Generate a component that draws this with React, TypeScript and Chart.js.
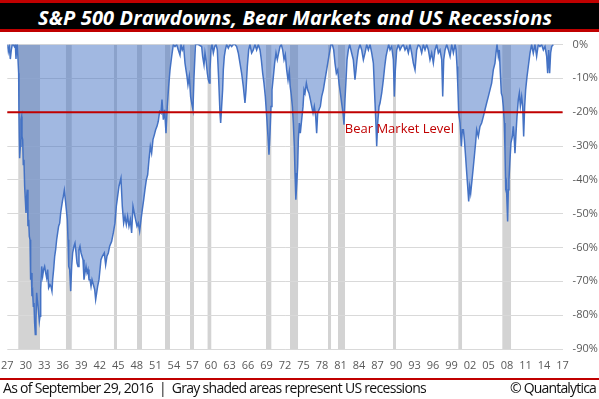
import React, { useEffect, useLayoutEffect, useRef } from "react";
import { Chart, registerables } from "chart.js";

Chart.register(...registerables);

const FONT = "'Open Sans', 'Noto Sans', 'DejaVu Sans', sans-serif";

// ---- DATA ----
const TITLE = "S&P 500 Drawdowns, Bear Markets and US Recessions";
const FOOTNOTE = "As of September 29, 2016\u00a0\u00a0|\u00a0\u00a0Gray shaded areas represent US recessions";
const CREDIT = "\u00a9 Quantalytica";
const BEAR_LABEL = "Bear Market Level";
const BEAR_LEVEL = -20;
const BEAR_LABEL_YEAR = 1981.7;

const xTickYears = [1927, 1930, 1933, 1936, 1939, 1942, 1945, 1948, 1951, 1954, 1957, 1960, 1963, 1966, 1969, 1972, 1975, 1978, 1981, 1984, 1987, 1990, 1993, 1996, 1999, 2002, 2005, 2008, 2011, 2014, 2017];
const yTickValues = [0, -10, -20, -30, -40, -50, -60, -70, -80, -90];

const recessionStart = [1928.78, 1936.51, 1944.29, 1948.02, 1952.56, 1956.61, 1959.46, 1968.93, 1972.82, 1978.98, 1980.6, 1989.51, 2000.1, 2007.23];
const recessionEnd = [1932.3, 1937.44, 1944.78, 1948.83, 1953.37, 1957.26, 1960.06, 1969.79, 1974.12, 1979.47, 1981.73, 1990.0, 2000.7, 2008.64];

const dateYears = [
  1927.0, 1927.16, 1927.32, 1927.49, 1927.65, 1927.81, 1927.97, 1928.14, 1928.3, 1928.41, 1928.51, 1928.62,
  1928.73, 1928.84, 1928.89, 1928.95, 1929.0, 1929.11, 1929.22, 1929.32, 1929.38, 1929.49, 1929.59, 1929.7,
  1929.81, 1929.92, 1930.03, 1930.14, 1930.24, 1930.35, 1930.46, 1930.57, 1930.68, 1930.78, 1930.89, 1931.0,
  1931.11, 1931.22, 1931.32, 1931.43, 1931.54, 1931.65, 1931.76, 1931.86, 1932.03, 1932.19, 1932.3, 1932.41,
  1932.57, 1932.73, 1932.89, 1933.05, 1933.22, 1933.38, 1933.54, 1933.7, 1933.92, 1934.08, 1934.24, 1934.35,
  1934.51, 1934.68, 1934.84, 1935.0, 1935.16, 1935.32, 1935.49, 1935.65, 1935.81, 1935.97, 1936.08, 1936.24,
  1936.41, 1936.57, 1936.73, 1936.84, 1936.95, 1937.11, 1937.27, 1937.43, 1937.59, 1937.81, 1937.97, 1938.14,
  1938.3, 1938.46, 1938.62, 1938.78, 1938.95, 1939.11, 1939.27, 1939.43, 1939.59, 1939.76, 1939.92, 1940.08,
  1940.24, 1940.41, 1940.57, 1940.73, 1940.95, 1941.16, 1941.32, 1941.64, 1941.86, 1942.18, 1942.4, 1942.72,
  1942.94, 1943.15, 1943.37, 1943.59, 1943.91, 1944.18, 1944.45, 1944.67, 1944.88, 1945.1, 1945.42, 1945.64,
  1945.86, 1946.07, 1946.29, 1946.5, 1946.72, 1946.94, 1947.15, 1947.37, 1947.58, 1947.8, 1948.02, 1948.23,
  1948.45, 1948.67, 1948.88, 1949.1, 1949.31, 1949.53, 1949.75, 1949.96, 1950.18, 1950.39, 1950.61, 1950.83,
  1951.04, 1951.26, 1951.47, 1951.69, 1951.91, 1952.07, 1952.29, 1952.5, 1952.72, 1952.93, 1953.15, 1953.37,
  1953.64, 1953.91, 1954.18, 1954.45, 1954.72, 1954.99, 1955.15, 1955.36, 1955.58, 1955.8, 1955.96, 1956.12,
  1956.28, 1956.5, 1956.71, 1956.93, 1957.09, 1957.25, 1957.42, 1957.5, 1957.96, 1958.5, 1958.66, 1958.88,
  1959.04, 1959.2, 1959.42, 1959.58, 1959.74, 1959.85, 1960.01, 1960.18, 1960.39, 1960.61, 1960.82, 1961.04,
  1961.26, 1961.47, 1961.58, 1961.74, 1961.9, 1962.01, 1962.17, 1962.34, 1962.55, 1962.82, 1963.09, 1963.36,
  1963.63, 1963.9, 1964.17, 1964.44, 1964.71, 1964.98, 1965.25, 1965.52, 1965.69, 1965.9, 1966.12, 1966.33,
  1966.6, 1966.87, 1967.14, 1967.41, 1967.68, 1967.96, 1968.17, 1968.39, 1968.6, 1968.82, 1969.04, 1969.25,
  1969.41, 1969.58, 1969.74, 1969.9, 1970.12, 1970.33, 1970.55, 1970.76, 1970.98, 1971.2, 1971.41, 1971.63,
  1971.85, 1972.06, 1972.28, 1972.5, 1972.7, 1972.85, 1973.0, 1973.2, 1973.36, 1973.52, 1973.63, 1973.74,
  1973.79, 1973.95, 1974.06, 1974.17, 1974.33, 1974.49, 1974.71, 1974.93, 1975.09, 1975.25, 1975.47, 1975.68,
  1975.9, 1976.12, 1976.33, 1976.55, 1976.76, 1976.98, 1977.14, 1977.3, 1977.52, 1977.74, 1977.95, 1978.22,
  1978.49, 1978.76, 1979.03, 1979.3, 1979.47, 1979.68, 1979.9, 1980.11, 1980.33, 1980.55, 1980.76, 1980.98,
  1981.19, 1981.41, 1981.57, 1981.73, 1981.9, 1982.06, 1982.27, 1982.49, 1982.81, 1983.08, 1983.35, 1983.52,
  1983.68, 1983.9, 1984.17, 1984.44, 1984.71, 1984.98, 1985.25, 1985.52, 1985.79, 1986.06, 1986.33, 1986.6,
  1986.76, 1986.87, 1987.03, 1987.25, 1987.41, 1987.68, 1987.95, 1988.17, 1988.38, 1988.6, 1988.81, 1989.03,
  1989.3, 1989.57, 1989.73, 1989.89, 1990.11, 1990.38, 1990.65, 1990.92, 1991.19, 1991.46, 1991.73, 1992.0,
  1992.27, 1992.54, 1992.81, 1993.08, 1993.35, 1993.62, 1993.89, 1994.16, 1994.43, 1994.7, 1994.97, 1995.24,
  1995.51, 1995.78, 1996.05, 1996.32, 1996.59, 1996.86, 1997.13, 1997.41, 1997.57, 1997.73, 1997.95, 1998.22,
  1998.49, 1998.76, 1999.03, 1999.3, 1999.57, 1999.73, 1999.89, 2000.0, 2000.16, 2000.38, 2000.59, 2000.75,
  2000.92, 2001.08, 2001.24, 2001.46, 2001.62, 2001.78, 2001.94, 2002.1, 2002.32, 2002.54, 2002.75, 2002.9,
  2003.07, 2003.34, 2003.61, 2003.88, 2004.15, 2004.42, 2004.69, 2004.96, 2005.23, 2005.5, 2005.77, 2006.04,
  2006.2, 2006.37, 2006.58, 2006.74, 2006.91, 2007.07, 2007.23, 2007.39, 2007.55, 2007.66, 2007.77, 2007.88,
  2007.99, 2008.09, 2008.2, 2008.31, 2008.47, 2008.63, 2008.85, 2009.01, 2009.17, 2009.28, 2009.45, 2009.61,
  2009.82, 2009.99, 2010.15, 2010.36, 2010.53, 2010.69, 2010.85, 2011.01, 2011.23, 2011.44, 2011.71, 2011.98,
  2012.25, 2012.52, 2012.79, 2013.06, 2013.33, 2013.6, 2013.88, 2014.15, 2014.42, 2014.58, 2014.74, 2014.9,
  2015.06, 2015.23, 2015.5
];

const drawdownPct = [
  0, -2.1, -0.6, -4.3, -1.6, 0, 0, -0.6, 0, -4.3, -0.6, 0,
  0, -8.5, -20.1, -28.1, -33.6, -30.1, -22.2, -21.3, -27.2, -28.1, -35.5, -34.1,
  -41.9, -45.9, -49.8, -44.9, -42.9, -53.7, -51.8, -56.7, -57.7, -69.5, -67.5, -74.4,
  -73.4, -77.4, -76.4, -82.3, -85.7, -81.3, -73.4, -75.4, -78.3, -81.8, -80.3, -72.4,
  -65.6, -68.5, -66.5, -65.6, -67.5, -69.0, -66.5, -71.9, -71.0, -71.5, -72.9, -69.5,
  -66.5, -62.6, -60.6, -57.7, -55.7, -53.7, -52.8, -49.8, -47.8, -45.9, -44.9, -43.1,
  -45.9, -48.8, -51.8, -57.7, -65.6, -66.5, -72.9, -65.6, -61.6, -59.6, -58.7, -61.6,
  -64.6, -65.6, -60.6, -59.6, -61.6, -62.6, -63.6, -69.5, -67.5, -65.6, -67.5, -66.5,
  -69.5, -69.5, -71.5, -69.5, -71.0, -72.4, -75.4, -71.5, -69.5, -63.6, -62.6, -61.6,
  -65.1, -62.6, -61.6, -59.6, -58.2, -55.7, -52.8, -47.8, -44.9, -41.9, -39.5, -47.8,
  -52.8, -50.8, -53.2, -50.8, -53.7, -51.8, -55.7, -47.8, -49.8, -51.8, -53.7, -52.8,
  -55.2, -51.8, -48.8, -45.9, -42.9, -40.0, -38.5, -34.1, -30.1, -32.1, -28.1, -26.7,
  -25.2, -24.2, -22.7, -19.8, -20.3, -16.3, -22.2, -19.3, -26.2, -18.3, -12.4, -7.5,
  -3.5, 0, -0.6, 0, -1.6, -3.1, 0, -1.6, -0.6, -5.5, -7.5, -9.4,
  -11.9, -9.4, -15.4, -17.8, -19.3, -10.0, -3.0, 0, 0, -0.6, -3.5, -6.0,
  -2.5, -4.5, -8.5, -10.4, -11.4, -7.5, -1.6, 0, -2.5, -0.6, 0, -1.6,
  -10.4, -20.3, -23.2, -18.3, -13.4, -7.5, -3.5, -1.6, 0, -1.1, 0, -0.6,
  0, 0, -0.6, -2.5, -5.5, -8.5, -12.4, -17.3, -13.4, -6.5, -1.6, 0,
  -2.5, -1.6, 0, -1.6, 0, -1.6, -4.5, -8.5, -11.4, -15.4, -21.3, -27.2,
  -32.6, -26.2, -18.3, -13.4, -9.5, -5.5, -2.5, -4.5, -2.5, -0.6, 0, -1.6,
  -4.5, -3.0, -7.5, -10.5, -8.0, -12.4, -14.5, -18.3, -23.2, -30.1, -38.0, -42.0,
  -45.9, -40.0, -36.0, -28.1, -23.2, -26.2, -22.2, -18.3, -13.4, -14.4, -11.4, -13.4,
  -14.4, -16.3, -18.3, -20.3, -18.3, -21.3, -26.2, -20.3, -19.3, -18.3, -15.4, -13.4,
  -10.4, -7.5, -4.5, -1.6, 0, 0, -1.6, -5.5, -8.5, -7.5, -11.4, -14.4,
  -17.3, -20.3, -23.7, -16.3, -10.4, -4.5, -1.6, 0, -2.5, -4.5, -10.4, -7.5,
  -4.5, -1.6, 0, -1.6, -4.5, -2.5, 0, -1.6, 0, -2.5, -5.5, -17.3,
  -24.2, -30.1, -23.2, -18.3, -17.3, -14.4, -10.4, -6.5, -3.5, -1.6, 0, -1.6,
  -0.6, -4.5, -15.4, -7.5, -1.6, 0, -1.6, -0.6, 0, -1.6, -0.6, -2.5,
  0, -2.5, -5.5, -7.5, -1.6, 0, -0.6, -2.5, 0, -1.6, 0, -1.6,
  -4.5, -2.5, -5.5, -1.6, 0, -2.5, -1.6, -4.5, -15.4, -4.5, -1.6, 0,
  -1.6, -3.5, 0, -2.5, 0, -1.6, -6.5, -11.4, -20.3, -23.2, -30.1, -25.2,
  -25.2, -28.1, -32.1, -38.0, -42.0, -46.4, -42.0, -44.0, -40.0, -36.0, -32.0, -29.1,
  -25.2, -27.2, -24.2, -23.2, -21.3, -19.3, -17.3, -15.4, -13.4, -11.4, -7.5, -5.5,
  -2.6, 0, -3.5, -1.6, -8.5, -14.4, -15.4, -18.3, -23.2, -31.1, -42.0, -41.0,
  -46.9, -52.3, -42.9, -40.0, -34.1, -29.1, -27.2, -24.2, -28.1, -32.1, -26.2, -21.3,
  -16.3, -14.4, -18.3, -15.4, -18.3, -27.2, -18.3, -13.4, -9.5, -6.5, -2.6, 0,
  -2.6, 0, -3.5, 0, -0.6, 0, -1.6, -0.6, -3.5, -8.5, -1.6, -8.5,
  -2.5, -0.6, 0
];

// ---- helpers ----
function FitText(props: { text: string; width: number; style: React.CSSProperties }) {
  const ref = useRef<HTMLSpanElement | null>(null);
  useLayoutEffect(() => {
    const fit = () => {
      const el = ref.current;
      if (!el) return;
      el.style.letterSpacing = "0px";
      const w = el.getBoundingClientRect().width;
      el.style.letterSpacing = (props.width - w) / props.text.length + "px";
    };
    fit();
    if ((document as any).fonts && (document as any).fonts.ready) {
      (document as any).fonts.ready.then(fit);
    }
  }, [props.text, props.width]);
  return (
    <span ref={ref} style={{ display: "inline-block", whiteSpace: "pre", ...props.style }}>
      {props.text}
    </span>
  );
}

export default function App() {
  const canvasRef = useRef<HTMLCanvasElement | null>(null);

  useEffect(() => {
    const canvas = canvasRef.current;
    if (!canvas) return;
    const points = dateYears.map((x, i) => ({ x, y: drawdownPct[i] }));

    const overlayPlugin = {
      id: "recessionsAndBear",
      beforeDraw(chart: any) {
        const { ctx, chartArea, scales } = chart;
        ctx.save();
        ctx.fillStyle = "#d3d3d3";
        recessionStart.forEach((s, i) => {
          const x0 = scales.x.getPixelForValue(s);
          const x1 = scales.x.getPixelForValue(recessionEnd[i]);
          ctx.fillRect(x0, chartArea.top, x1 - x0, chartArea.bottom - chartArea.top);
        });
        ctx.restore();
      },
      afterDatasetsDraw(chart: any) {
        const { ctx, chartArea, scales } = chart;
        const y = scales.y.getPixelForValue(BEAR_LEVEL);
        ctx.save();
        ctx.strokeStyle = "#c00000";
        ctx.lineWidth = 2;
        ctx.beginPath();
        ctx.moveTo(chartArea.left, y);
        ctx.lineTo(chartArea.right, y);
        ctx.stroke();
        ctx.fillStyle = "#c00000";
        ctx.font = `13px ${FONT}`;
        ctx.textBaseline = "alphabetic";
        ctx.textAlign = "left";
        ctx.fillText(BEAR_LABEL, scales.x.getPixelForValue(BEAR_LABEL_YEAR), y + 21);
        ctx.restore();
      },
    };

    const chart = new Chart(canvas, {
      type: "line",
      data: {
        datasets: [
          {
            data: points,
            borderColor: "#4472c4",
            borderWidth: 1.5,
            backgroundColor: "rgba(68,114,196,0.5)",
            fill: "origin",
            pointRadius: 0,
            tension: 0,
          },
        ],
      },
      options: {
        responsive: false,
        animation: false,
        devicePixelRatio: 1,
        layout: { padding: { left: 7.3, right: 0, top: 44.5, bottom: 28 } },
        plugins: { legend: { display: false }, tooltip: { enabled: false }, title: { display: false } },
        scales: {
          x: {
            type: "linear",
            min: 1927,
            max: 2017,
            grid: { display: false },
            border: { display: false },
            afterBuildTicks: (s: any) => {
              s.ticks = xTickYears.map((v) => ({ value: v }));
            },
            afterFit: (s: any) => {
              s.height = 22;
              s.paddingLeft = 0;
              s.paddingRight = 0;
            },
            ticks: {
              autoSkip: false,
              maxRotation: 0,
              padding: 2,
              color: "#595959",
              font: { family: FONT, size: 11 },
              callback: (v: any) => String(Number(v) % 100).padStart(2, "0"),
            },
          },
          y: {
            position: "right",
            min: -90,
            max: 0,
            grid: { color: "#d9d9d9", lineWidth: 1, drawTicks: false },
            border: { display: false },
            afterBuildTicks: (s: any) => {
              s.ticks = yTickValues.map((v) => ({ value: v }));
            },
            afterFit: (s: any) => {
              s.width = 36.4;
              s.paddingTop = 0;
              s.paddingBottom = 0;
            },
            ticks: {
              padding: 10,
              color: "#595959",
              font: { family: FONT, size: 11 },
              callback: (v: any) => `${v}%`,
            },
          },
        },
      },
      plugins: [overlayPlugin],
    } as any);

    return () => chart.destroy();
  }, []);

  return (
    <div style={{ position: "absolute", left: 0, top: 0, width: 599, height: 399, background: "#fff", overflow: "hidden" }}>
      <canvas ref={canvasRef} width={599} height={399} style={{ position: "absolute", left: 0, top: 0 }} />
      {/* title bar */}
      <div style={{ position: "absolute", left: 0, top: 0, width: 599, height: 3, background: "#c00000" }} />
      <div style={{ position: "absolute", left: 0, top: 3, width: 599, height: 26, background: "#000" }} />
      <div style={{ position: "absolute", left: 0, top: 29, width: 599, height: 3, background: "#c00000" }} />
      <div style={{ position: "absolute", left: 38, top: 8, lineHeight: "20px", height: 20 }}>
        <FitText
          text={TITLE}
          width={514}
          style={{ fontFamily: FONT, fontSize: 20, fontWeight: 700, fontStyle: "italic", color: "#fff", lineHeight: "20px" }}
        />
      </div>
      {/* footer */}
      <div style={{ position: "absolute", left: 0, top: 377.5, width: 599, height: 2, background: "#c00000" }} />
      <div style={{ position: "absolute", left: 3, top: 381, lineHeight: "14px" }}>
        <FitText text={FOOTNOTE} width={423} style={{ fontFamily: FONT, fontSize: 14, color: "#111", lineHeight: "14px" }} />
      </div>
      <div style={{ position: "absolute", left: 510, top: 381, lineHeight: "14px" }}>
        <FitText text={CREDIT} width={86} style={{ fontFamily: FONT, fontSize: 14, color: "#111", lineHeight: "14px" }} />
      </div>
    </div>
  );
}
